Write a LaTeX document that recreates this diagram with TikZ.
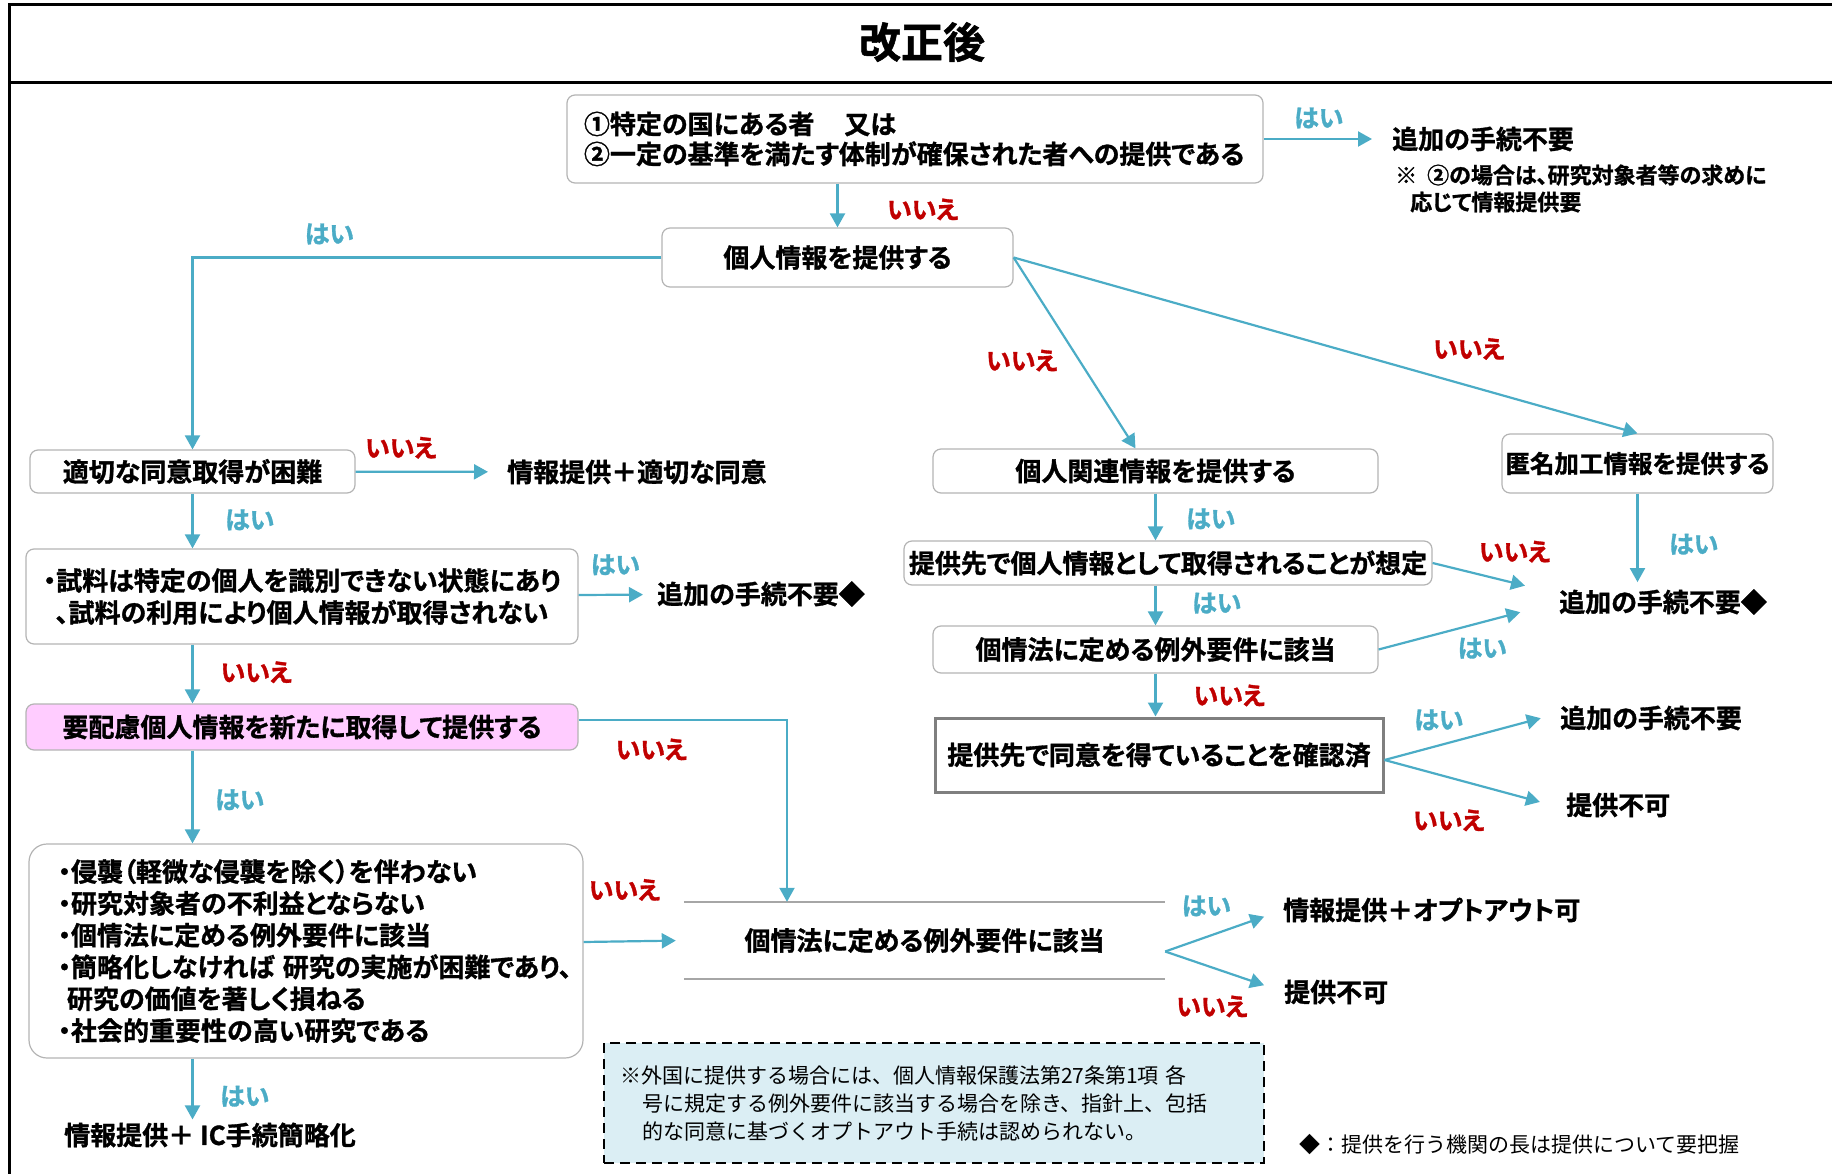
\documentclass[tikz,border=0pt]{standalone}
\usepackage{fontspec}
\setmainfont{Noto Sans CJK JP}[BoldFont={* Bold}, BoldFeatures={FakeBold=1.2}, RawFeature={+palt}]
\newfontfamily\notefont{Noto Sans CJK JP}
\usetikzlibrary{arrows.meta}
\definecolor{hai}{HTML}{4BACC6}
\definecolor{iie}{HTML}{C00000}
\definecolor{boxgray}{HTML}{B4B4B4}
\definecolor{framegray}{HTML}{7F7F7F}
\definecolor{linegray}{HTML}{A6A6A6}
\definecolor{pinkfill}{HTML}{FFCCFF}
\definecolor{notefill}{HTML}{DBEEF4}
\begin{document}
\begin{tikzpicture}[x=1pt, y=-1pt, >={Triangle[length=14pt,width=15pt]}]
	\tikzstyle{flowbox} = [draw=boxgray, line width=1.2pt, rounded corners=8pt, fill=white, inner sep=0pt, font=\bfseries\fontsize{26}{30}\selectfont]
	\tikzstyle{outcome} = [anchor=west, inner sep=0pt, font=\bfseries\fontsize{26}{30}\selectfont]
	\tikzstyle{link} = [->, draw=hai, line width=2.2pt]
	\tikzstyle{yes} = [text=hai, inner sep=2pt, font=\bfseries\fontsize{25}{28}\selectfont]
	\tikzstyle{no} = [yes, text=iie]
	\useasboundingbox (0,0) rectangle (1832,1174);
	\draw[line width=3pt] (9,1180) -- (9,5) -- (1840,5) (9,83) -- (1840,83);
	\node[font=\bfseries\fontsize{42}{48}\selectfont](title) at (922,42) {改正後};
	\node[flowbox, minimum width=696pt, minimum height=88pt, text width=662pt, inner xsep=17pt, align=left](A) at (915,139) {①特定の国にある者\hspace{30pt}又は\\②一定の基準を満たす体制が確保された者への提供である};
	\node[outcome](add1) at (1392,139) {追加の手続不要};
	\node[anchor=west, inner sep=0pt, align=left, font=\bfseries\fontsize{22}{27}\selectfont](cond1) at (1395,188.5) {※\hspace{10pt}②の場合は、研究対象者等の求めに\\\hspace*{15pt}応じて情報提供要};
	\node[flowbox, minimum width=351pt, minimum height=59pt](B) at (837.5,257.5) {個人情報を提供する};
	\node[flowbox, minimum width=325pt, minimum height=43pt](C) at (192.5,471.5) {適切な同意取得が困難};
	\node[outcome](consent) at (507,472) {情報提供＋適切な同意};
	\node[flowbox, minimum width=552pt, minimum height=95pt, align=center, font=\bfseries\fontsize{26}{32}\selectfont](F) at (302,596.5) {・試料は特定の個人を識別できない状態にあり\\、試料の利用により個人情報が取得されない};
	\node[outcome](add2) at (657,594) {追加の手続不要◆};
	\node[flowbox, fill=pinkfill, minimum width=552pt, minimum height=46pt](G) at (302,727) {要配慮個人情報を新たに取得して提供する};
	\node[flowbox, rounded corners=18pt, minimum width=554pt, minimum height=214pt, text width=496pt, inner xsep=29pt, align=left, font=\bfseries\fontsize{26}{31.8}\selectfont](I) at (306,951) {・侵襲（軽微な侵襲を除く）を伴わない\\・研究対象者の不利益とならない\\・個情法に定める例外要件に該当\\・簡略化しなければ~研究の実施が困難であり、\\\hspace*{9pt}研究の価値を著しく損ねる\\・社会的重要性の高い研究である};
	\node[outcome](icsimp) at (64,1135) {情報提供＋ IC手続簡略化};
	\node[minimum width=481pt, minimum height=77pt, inner sep=0pt, font=\bfseries\fontsize{26}{30}\selectfont](H) at (924.5,940.5) {個情法に定める例外要件に該当};
	\draw[linegray, line width=2pt] (H.north west) -- (H.north east) (H.south west) -- (H.south east);
	\node[outcome](optout) at (1283,910) {情報提供＋オプトアウト可};
	\node[outcome](ng1) at (1284,992) {提供不可};
	\node[flowbox, minimum width=445pt, minimum height=44pt](D) at (1155.5,471) {個人関連情報を提供する};
	\node[flowbox, minimum width=271pt, minimum height=59pt, font=\bfseries\fontsize{24.5}{30}\selectfont](E) at (1637.5,463.5) {匿名加工情報を提供する};
	\node[flowbox, minimum width=528pt, minimum height=44pt](J) at (1168,563) {提供先で個人情報として取得されることが想定};
	\node[flowbox, minimum width=445pt, minimum height=47pt](K) at (1155.5,649.5) {個情法に定める例外要件に該当};
	\node[flowbox, draw=framegray, line width=3pt, sharp corners, minimum width=448pt, minimum height=74pt](L) at (1159,755) {提供先で同意を得ていることを確認済};
	\node[outcome](add3) at (1559,602) {追加の手続不要◆};
	\node[outcome](add4) at (1560,718) {追加の手続不要};
	\node[outcome](ng2) at (1566,805) {提供不可};
	\node[draw, dash pattern=on 10pt off 6pt, line width=2.5pt, fill=notefill, minimum width=660pt, minimum height=120pt, text width=628pt, inner xsep=16pt, align=left, font=\notefont\fontsize{21}{28}\selectfont](caution) at (934,1103) {※外国に提供する場合には、個人情報保護法第27条第1項 各\\\hspace*{22pt}号に規定する例外要件に該当する場合を除き、指針上、包括\\\hspace*{22pt}的な同意に基づくオプトアウト手続は認められない。};
	\node[anchor=west, inner sep=0pt, font=\notefont\fontsize{21}{25}\selectfont](legend) at (1299,1145) {◆：提供を行う機関の長は提供について要把握};
	\path (A) edge[link, shorten >=20pt] node[yes, pos=0.43, above=7.5pt] {はい} (add1);
	\path (A.south -| B.north) edge[link] node[no, pos=0.59, right=46.5pt] {いいえ} (B.north);
	\draw[link] (B.west) -| node[yes, pos=0.354, above=10pt] {はい} (C.north);
	\path (B.east) edge[link] node[no, pos=0.54, left=18.5pt] {いいえ} ([xshift=-20pt]D.north);
	\path (B.east) edge[link] node[no, pos=0.73, above=23pt] {いいえ} (E.north);
	\path (C) edge[link, shorten >=19pt] node[no, pos=0.3, above=10pt] {いいえ} (consent);
	\path (C.south) edge[link] node[yes, pos=0.48, right=29.5pt] {はい} (C.south |- F.north);
	\path (F) edge[link, shorten >=14pt] node[yes, pos=0.47, above=16.5pt] {はい} (add2);
	\path (F.south -| C.south) edge[link] node[no, pos=0.47, right=25pt] {いいえ} (G.north -| C.south);
	\draw[link] ([yshift=7pt]G.east) -| node[no, pos=0.175, below=15.5pt] {いいえ} ([xshift=-137.5pt]H.north);
	\path (G.south -| C.south) edge[link] node[yes, pos=0.53, right=19.5pt] {はい} (I.north -| C.south);
	\path ([yshift=9pt]I.east) edge[link, shorten >=8pt] node[no, pos=0.41, above=37.5pt] {いいえ} (H.west);
	\path (I.south -| C.south) edge[link, shorten >=3pt] node[yes, pos=0.59, right=24.5pt] {はい} (icsimp.north -| C.south);
	\path ([yshift=-11pt]H.east) edge[link, shorten >=20pt] node[yes, pos=0.35, above=17.5pt] {はい} (optout.west);
	\path ([yshift=-11pt]H.east) edge[link, shorten >=21pt] node[no, pos=0.395, below=25pt] {いいえ} (ng1.west);
	\path (D.south) edge[link] node[yes, pos=0.54, right=27.5pt] {はい} (D.south |- J.north);
	\path (J.east) edge[link, shorten >=35pt] node[no, pos=0.65, above=17.5pt] {いいえ} ([yshift=8pt]add3.west);
	\path (J.south -| D.south) edge[link] node[yes, pos=0.44, right=33.5pt] {はい} (K.north);
	\path (K.east) edge[link, shorten >=40pt] node[yes, pos=0.575, below=12.5pt] {はい} (add3.west);
	\path (E.south) edge[link, shorten >=7pt] node[yes, pos=0.53, right=28.5pt] {はい} (E.south |- add3.north);
	\path (K.south) edge[link] node[no, pos=0.51, right=35pt] {いいえ} (K.south |- L.north);
	\path ([yshift=-5pt]L.east) edge[link, shorten >=20pt] node[yes, pos=0.31, above=12pt] {はい} ([yshift=5pt]add4.west);
	\path ([yshift=-5pt]L.east) edge[link, shorten >=27pt] node[no, pos=0.355, below=29pt] {いいえ} ([yshift=-4pt]ng2.west);
\end{tikzpicture}
\end{document}
